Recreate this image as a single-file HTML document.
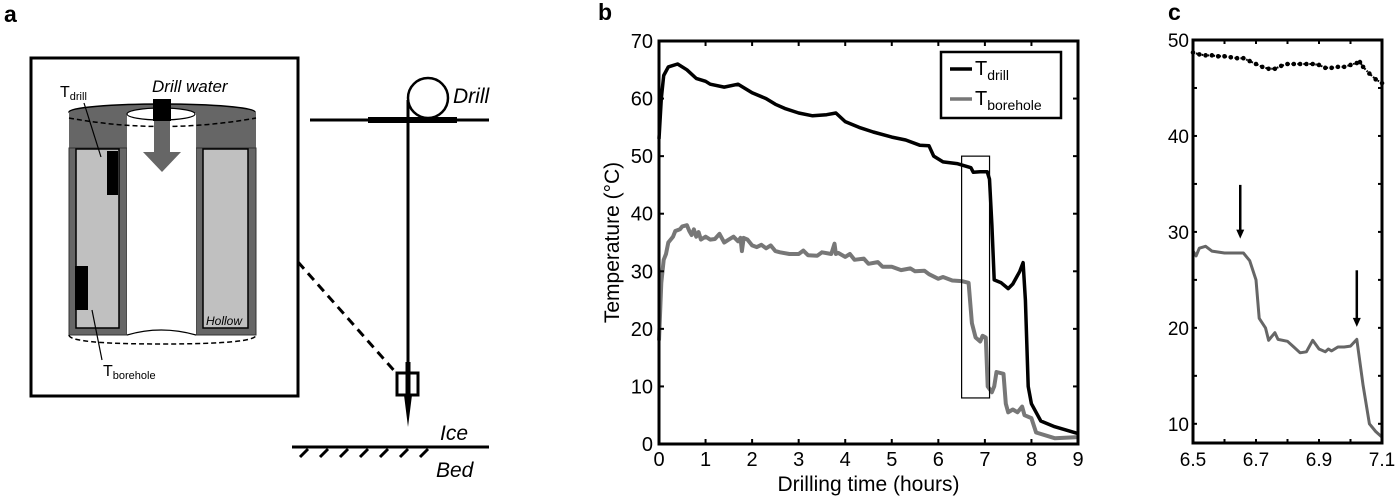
<!DOCTYPE html>
<html><head><meta charset="utf-8"><style>
html,body{margin:0;padding:0;background:#fff;width:1400px;height:500px;overflow:hidden}
svg text{font-family:"Liberation Sans",sans-serif}
</style></head><body>
<svg id="fig" width="1400" height="500" viewBox="0 0 1400 500">
<g>
<text x="4" y="22" font-size="23" font-weight="bold">a</text>
<rect x="31" y="58" width="267" height="338" fill="none" stroke="#000" stroke-width="3"/>
<ellipse cx="162" cy="112" rx="93" ry="8" fill="#666" stroke="#000" stroke-width="1.5"/>
<rect x="69" y="112" width="187" height="36" fill="#666"/>
<rect x="69" y="148" width="58" height="187" fill="#666" stroke="#333"/>
<rect x="196" y="148" width="60" height="187" fill="#666" stroke="#333"/>
<rect x="76" y="149" width="43" height="179" fill="#c0c0c0" stroke="#000" stroke-width="1.5"/>
<rect x="203" y="149" width="45" height="179" fill="#c0c0c0" stroke="#000" stroke-width="1.5"/>
<rect x="127" y="113" width="69" height="222" fill="#fff"/>
<ellipse cx="161" cy="114" rx="34" ry="6" fill="#fff" stroke="#000" stroke-width="1.2"/>
<path d="M69 118 Q162 135 256 118" fill="none" stroke="#000" stroke-width="1.5" stroke-dasharray="5,3"/>
<path d="M127 335 Q161 325 196 335" fill="none" stroke="#000" stroke-width="1.2"/>
<path d="M69 335 Q69 344 162 344 Q256 344 256 335" fill="none" stroke="#000" stroke-width="1.5" stroke-dasharray="5,3"/>
<rect x="107" y="151" width="11" height="44" fill="#000"/>
<rect x="75" y="266" width="13" height="44" fill="#000"/>
<rect x="153" y="99" width="18" height="22" fill="#000"/>
<rect x="154" y="121" width="16" height="33" fill="#666"/>
<polygon points="143,152 181,152 162,172" fill="#666"/>
<text x="152" y="92" font-size="17" font-style="italic">Drill water</text>
<text x="60" y="97" font-size="16">T<tspan font-size="11" dy="3">drill</tspan></text>
<line x1="84" y1="103" x2="101" y2="157" stroke="#000" stroke-width="1.2"/>
<text x="103" y="376" font-size="16">T<tspan font-size="11" dy="3">borehole</tspan></text>
<line x1="92" y1="310" x2="102" y2="360" stroke="#000" stroke-width="1.2"/>
<text x="206" y="325" font-size="12" font-style="italic">Hollow</text>
<line x1="298" y1="262" x2="398" y2="375" stroke="#000" stroke-width="3" stroke-dasharray="9,6"/>
<line x1="310" y1="120" x2="489" y2="120" stroke="#000" stroke-width="3"/>
<line x1="368" y1="120" x2="457" y2="120" stroke="#000" stroke-width="6"/>
<circle cx="428" cy="98" r="20" fill="none" stroke="#000" stroke-width="2.5"/>
<line x1="408" y1="100" x2="408" y2="400" stroke="#000" stroke-width="3"/>
<rect x="397" y="373" width="21" height="22" fill="#fff" stroke="#000" stroke-width="3"/>
<line x1="408" y1="362" x2="408" y2="395" stroke="#000" stroke-width="5"/>
<polygon points="404,395 412,395 408,427" fill="#000"/>
<text x="453" y="103" font-size="21" font-style="italic">Drill</text>
<text x="440" y="440" font-size="21" font-style="italic">Ice</text>
<text x="436" y="477" font-size="21" font-style="italic">Bed</text>
<line x1="292" y1="447" x2="489" y2="447" stroke="#000" stroke-width="3"/>
<g id="hatch" stroke="#000" stroke-width="3"></g>
</g>
<g id="pb">
<text x="598" y="20" font-size="23" font-weight="bold">b</text>
</g>
<g id="pc">
<text x="1168" y="20" font-size="23" font-weight="bold">c</text>
</g>
</svg>
<script>
const NS="http://www.w3.org/2000/svg";
const drillT=[0,0.05,0.1,0.2,0.4,0.6,0.8,1,1.1,1.4,1.7,2,2.3,2.5,2.7,3,3.3,3.6,3.8,4,4.3,4.6,5,5.3,5.6,5.8,5.9,6.1,6.4,6.7,6.75,6.9,7.05,7.1,7.15,7.2,7.35,7.5,7.6,7.75,7.82,7.87,7.93,8,8.2,8.5,9];
const drillV=[53,60,64,65.5,66,65,63.5,63,62.5,62,62.5,61,60,59,58.3,57.5,57,57.2,57.5,56,55,54.2,53.3,52.8,51.9,51.8,50,49,48.7,48,47.2,47.3,47.3,46,38,28.5,28,27,27.8,30,31.5,25,10,7,4,3,1.8];
const boreT=[0,0.05,0.1,0.15,0.2,0.3,0.35,0.45,0.5,0.6,0.65,0.7,0.75,0.8,0.85,0.9,1,1.1,1.2,1.3,1.4,1.5,1.6,1.7,1.75,1.78,1.82,1.9,2,2.1,2.2,2.3,2.4,2.5,2.6,2.8,3,3.1,3.2,3.4,3.5,3.7,3.77,3.8,3.85,4,4.1,4.2,4.4,4.5,4.7,4.8,5,5.2,5.4,5.5,5.7,5.8,6,6.1,6.3,6.5,6.65,6.72,6.8,6.9,6.95,7.02,7.06,7.15,7.2,7.25,7.4,7.45,7.5,7.6,7.7,7.8,7.85,8,8.1,8.5,9];
const boreV=[18,28,32,33,35,36,37,37.3,37.8,38,37,36.3,37.3,36,36.8,35.5,36,35.5,35.6,36.5,35,35.5,36,35.2,35.8,33.5,35.8,35.5,34.5,34.2,34.6,34,34.5,33.5,33.3,33,33,33.6,32.8,32.7,33.3,33,34.8,33,33.2,32.5,33,32,32.2,31.3,31.6,30.8,30.8,30.2,30.5,30,30.1,29.5,28.7,29,28.4,28.3,28,21,18.5,17.8,18.8,18.5,10,9,10,12.5,12.2,7,5.5,6,5.5,6.5,5,4.5,2,1,1.2];
const bXTicks=[0,1,2,3,4,5,6,7,8,9];
const bYTicks=[0,10,20,30,40,50,60,70];
const cDrillT=[6.5,6.52,6.54,6.56,6.58,6.6,6.62,6.64,6.66,6.68,6.7,6.72,6.74,6.76,6.78,6.8,6.82,6.84,6.86,6.88,6.9,6.92,6.94,6.96,6.98,7.0,7.02,7.03,7.04,7.06,7.08,7.1];
const cDrillV=[48.7,48.5,48.4,48.4,48.3,48.3,48.2,48.1,48.1,47.8,47.5,47.2,47,47,47.3,47.5,47.5,47.5,47.5,47.5,47.4,47.1,47.1,47.2,47.2,47.4,47.6,47.7,47.2,46.5,45.9,45.5];
const cBoreT=[6.5,6.51,6.52,6.54,6.56,6.6,6.66,6.68,6.7,6.71,6.73,6.74,6.76,6.77,6.8,6.82,6.84,6.86,6.88,6.9,6.92,6.93,6.94,6.96,6.98,7.0,7.02,7.04,7.06,7.08,7.1];
const cBoreV=[28,27.5,28.3,28.5,28,27.8,27.8,27,25,21,20,18.7,19.5,18.8,18.6,18,17.4,17.5,18.7,17.8,17.5,17.8,17.6,18,18,18.1,18.8,14,10,9.2,8.6];
const cXTicks=[6.5,6.7,6.9,7.1];
const cYTicks=[10,20,30,40,50];
const cArrowX=[6.65,7.02];
const cArrowTop=[34.9,26];
const cArrowTip=[29.3,20.1];

function el(p,t,a){const e=document.createElementNS(NS,t);for(const k in a)e.setAttribute(k,a[k]);p.appendChild(e);return e;}
const hg=document.getElementById('hatch');
for(let i=0;i<7;i++){const x=300+i*20;const h=el(hg,'line',{x1:x+8,y1:449,x2:x,y2:457});

}

const pb=document.getElementById('pb');
const bx0=659,bx1=1078,by0=444,by1=41;
const bX=v=>bx0+(v-0)/9*(bx1-bx0);
const bY=v=>by0-(v-0)/70*(by0-by1);
function poly(g,xs,ys,fx,fy,attrs,name){const pts=xs.map((t,i)=>fx(t).toFixed(1)+','+fy(ys[i]).toFixed(1)).join(' ');const p=el(g,'polyline',Object.assign({points:pts,fill:'none'},attrs));

return p;}
poly(pb,boreT,boreV,bX,bY,{stroke:'#777','stroke-width':4,'stroke-linejoin':'round'},'borehole-line');
poly(pb,drillT,drillV,bX,bY,{stroke:'#000','stroke-width':3.5,'stroke-linejoin':'round'},'drill-line');
const zr=el(pb,'rect',{x:bX(6.5),y:bY(50),width:bX(7.1)-bX(6.5),height:bY(8)-bY(50),fill:'none',stroke:'#000','stroke-width':1.2});


const bf=el(pb,'rect',{x:bx0,y:by1,width:bx1-bx0,height:by0-by1,fill:'none',stroke:'#000','stroke-width':3});


bXTicks.forEach(v=>{const x=bX(v);el(pb,'line',{x1:x,y1:by0,x2:x,y2:by0-5,stroke:'#000','stroke-width':2});el(pb,'line',{x1:x,y1:by1,x2:x,y2:by1+5,stroke:'#000','stroke-width':2});
const t=el(pb,'text',{x:x,y:by0+22,'font-size':20,'text-anchor':'middle'});t.textContent=v;

});
bYTicks.forEach(v=>{const y=bY(v);el(pb,'line',{x1:bx0,y1:y,x2:bx0+5,y2:y,stroke:'#000','stroke-width':2});el(pb,'line',{x1:bx1,y1:y,x2:bx1-5,y2:y,stroke:'#000','stroke-width':2});
const t=el(pb,'text',{x:bx0-6,y:y+7,'font-size':20,'text-anchor':'end'});t.textContent=v;

});
const xl=el(pb,'text',{x:(bx0+bx1)/2,y:491,'font-size':21,'text-anchor':'middle'});xl.textContent='Drilling time (hours)';


const yl=el(pb,'text',{x:0,y:0,'font-size':21,'text-anchor':'middle',transform:'translate(619,'+((by0+by1)/2)+') rotate(-90)'});yl.textContent='Temperature (°C)';


const lg=el(pb,'g',{});


el(lg,'rect',{x:941,y:52,width:120,height:66,fill:'#fff',stroke:'#000','stroke-width':2.5});
el(lg,'line',{x1:950,y1:69,x2:972,y2:69,stroke:'#000','stroke-width':3.5});
el(lg,'line',{x1:950,y1:99,x2:972,y2:99,stroke:'#777','stroke-width':3.5});
const l1=el(lg,'text',{x:975,y:75,'font-size':20});l1.innerHTML='T<tspan font-size="14" dy="5">drill</tspan>';


const l2=el(lg,'text',{x:975,y:105,'font-size':20});l2.innerHTML='T<tspan font-size="14" dy="5">borehole</tspan>';



const pc=document.getElementById('pc');
const cx0=1193,cx1=1382,cy0=443,cy1=40;
const cX=v=>cx0+(v-6.5)/0.6*(cx1-cx0);
const cY=v=>cy0-(v-8)/42*(cy0-cy1);
poly(pc,cBoreT,cBoreV,cX,cY,{stroke:'#666','stroke-width':3,'stroke-linejoin':'round'},'borehole-line-zoom');
poly(pc,cDrillT,cDrillV,cX,cY,{stroke:'#000','stroke-width':2,'stroke-dasharray':'1.5,1.5'},'drill-line-zoom');
cDrillT.forEach((t,i)=>{const d=el(pc,'circle',{cx:cX(t),cy:cY(cDrillV[i]),r:2.3,fill:'#000'});

});
cArrowX.forEach((t,i)=>{const x=cX(t);const a=el(pc,'g',{});


el(a,'line',{x1:x,y1:cY(cArrowTop[i]),x2:x,y2:cY(cArrowTip[i])-8,stroke:'#000','stroke-width':2.5});
el(a,'polygon',{points:(x-4)+','+(cY(cArrowTip[i])-9)+' '+(x+4)+','+(cY(cArrowTip[i])-9)+' '+x+','+cY(cArrowTip[i]),fill:'#000'});});
const cf=el(pc,'rect',{x:cx0,y:cy1,width:cx1-cx0,height:cy0-cy1,fill:'none',stroke:'#000','stroke-width':3});


for(let v=6.5;v<=7.101;v+=0.1){const x=cX(v);el(pc,'line',{x1:x,y1:cy0,x2:x,y2:cy0-4,stroke:'#000','stroke-width':2});el(pc,'line',{x1:x,y1:cy1,x2:x,y2:cy1+4,stroke:'#000','stroke-width':2});}
for(let v=10;v<=50;v+=5){const y=cY(v);el(pc,'line',{x1:cx0,y1:y,x2:cx0+4,y2:y,stroke:'#000','stroke-width':2});el(pc,'line',{x1:cx1,y1:y,x2:cx1-4,y2:y,stroke:'#000','stroke-width':2});}
cXTicks.forEach(v=>{const t=el(pc,'text',{x:cX(v),y:cy0+23,'font-size':19,'text-anchor':'middle'});t.textContent=v.toFixed(1);

});
cYTicks.forEach(v=>{const t=el(pc,'text',{x:cx0-4,y:cY(v)+7,'font-size':19,'text-anchor':'end'});t.textContent=v;

});
</script>
</body></html>
